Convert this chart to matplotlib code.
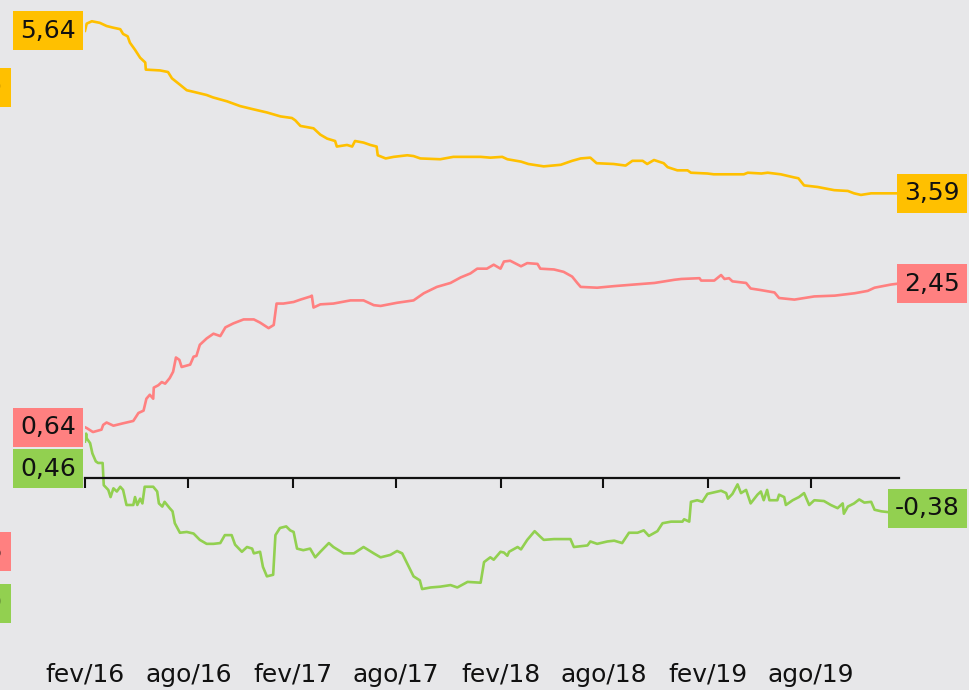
import matplotlib
matplotlib.use("Agg")
import matplotlib.pyplot as plt
import matplotlib.dates as mdates
import pandas as pd

plt.rcParams['font.family'] = ['DejaVu Sans']

# ---------------- data ----------------
yellow_dates = ["2016-02-01","2016-02-04","2016-02-13","2016-02-27","2016-03-10","2016-03-21","2016-04-03","2016-04-08",
    "2016-04-16","2016-04-20","2016-04-29","2016-05-08","2016-05-17","2016-05-18","2016-06-12","2016-06-26","2016-07-03",
    "2016-07-17","2016-07-29","2016-08-10","2016-09-02","2016-09-13","2016-10-08","2016-10-31","2016-11-23","2016-12-17",
    "2017-01-10","2017-01-30","2017-02-05","2017-02-14","2017-03-09","2017-03-21","2017-04-02","2017-04-16","2017-04-19",
    "2017-05-07","2017-05-16","2017-05-21","2017-06-05","2017-06-17","2017-06-28","2017-06-30","2017-07-14","2017-07-28",
    "2017-08-21","2017-09-01","2017-09-13","2017-10-18","2017-11-10","2017-12-28","2018-01-14","2018-02-04","2018-02-13",
    "2018-03-09","2018-03-22","2018-04-18","2018-05-18","2018-06-07","2018-06-22","2018-07-09","2018-07-20","2018-08-19",
    "2018-09-09","2018-09-21","2018-10-09","2018-10-17","2018-10-29","2018-11-15","2018-11-22","2018-12-09","2018-12-27",
    "2019-01-02","2019-01-31","2019-02-11","2019-04-05","2019-04-12","2019-05-06","2019-05-17","2019-06-09","2019-07-03",
    "2019-07-10","2019-07-20","2019-08-13","2019-09-11","2019-10-05","2019-10-16","2019-10-28","2019-11-15","2019-12-31"]
yellow_vals = [5.64,5.73,5.76,5.74,5.70,5.68,5.66,5.60,
    5.57,5.49,5.40,5.30,5.24,5.15,5.14,5.12,5.04,
    4.96,4.89,4.87,4.83,4.80,4.75,4.69,4.65,4.61,
    4.56,4.54,4.51,4.44,4.41,4.33,4.28,4.25,4.18,
    4.20,4.18,4.25,4.23,4.20,4.18,4.07,4.03,4.05,
    4.07,4.06,4.03,4.02,4.05,4.05,4.04,4.05,4.02,
    3.99,3.96,3.93,3.95,4.00,4.03,4.04,3.97,3.96,
    3.94,4.00,4.00,3.96,4.01,3.97,3.92,3.88,3.88,
    3.85,3.84,3.83,3.83,3.85,3.84,3.85,3.83,3.79,
    3.78,3.69,3.67,3.63,3.62,3.59,3.57,3.59,3.59]

pink_dates = ["2016-02-01","2016-02-04","2016-02-15","2016-03-01","2016-03-04","2016-03-10","2016-03-22","2016-04-08",
    "2016-04-26","2016-05-05","2016-05-14","2016-05-19","2016-05-25","2016-05-31","2016-06-01","2016-06-09","2016-06-15",
    "2016-06-21","2016-06-29","2016-07-05","2016-07-10","2016-07-16","2016-07-20","2016-08-04","2016-08-10","2016-08-15",
    "2016-08-21","2016-09-02","2016-09-14","2016-09-26","2016-10-05","2016-10-19","2016-11-06","2016-11-24","2016-12-05",
    "2016-12-20","2016-12-29","2017-01-03","2017-01-15","2017-02-02","2017-02-14","2017-03-04","2017-03-06","2017-03-09",
    "2017-03-21","2017-04-13","2017-05-13","2017-06-05","2017-06-23","2017-07-05","2017-08-03","2017-09-01","2017-09-19",
    "2017-10-12","2017-11-05","2017-11-23","2017-12-10","2017-12-22","2018-01-08","2018-01-20","2018-02-01","2018-02-07",
    "2018-02-18","2018-03-09","2018-03-20","2018-04-07","2018-04-12","2018-05-06","2018-05-23","2018-06-07","2018-06-16",
    "2018-06-22","2018-07-21","2018-08-20","2018-09-24","2018-10-30","2018-12-04","2018-12-16","2019-01-17","2019-01-20",
    "2019-02-12","2019-02-24","2019-03-02","2019-03-10","2019-03-16","2019-04-09","2019-04-17","2019-05-05","2019-05-29",
    "2019-06-06","2019-07-03","2019-08-07","2019-09-12","2019-10-17","2019-11-09","2019-11-21","2019-12-20","2019-12-31"]
pink_vals = [0.64,0.63,0.58,0.61,0.67,0.70,0.66,0.69,
    0.72,0.82,0.85,1.00,1.05,1.00,1.14,1.17,1.21,
    1.19,1.26,1.34,1.52,1.49,1.40,1.43,1.53,1.54,
    1.68,1.76,1.82,1.79,1.90,1.95,2.00,2.00,1.96,
    1.89,1.93,2.20,2.20,2.22,2.25,2.29,2.30,2.15,
    2.19,2.20,2.24,2.24,2.18,2.17,2.21,2.24,2.33,
    2.41,2.46,2.53,2.58,2.64,2.64,2.69,2.64,2.73,
    2.74,2.67,2.71,2.70,2.64,2.63,2.60,2.54,2.46,
    2.41,2.40,2.42,2.44,2.46,2.50,2.51,2.52,2.49,
    2.49,2.56,2.51,2.52,2.48,2.46,2.39,2.37,2.34,
    2.27,2.25,2.29,2.30,2.33,2.36,2.40,2.44,2.45]

green_dates = ["2016-02-01","2016-02-03","2016-02-04","2016-02-10","2016-02-14","2016-02-20","2016-02-24","2016-03-03",
    "2016-03-05","2016-03-13","2016-03-17","2016-03-22","2016-03-28","2016-04-03","2016-04-08","2016-04-14","2016-04-26",
    "2016-04-29","2016-05-03","2016-05-08","2016-05-12","2016-05-16","2016-05-31","2016-06-07","2016-06-10","2016-06-16",
    "2016-06-20","2016-06-29","2016-07-04","2016-07-08","2016-07-17","2016-07-29","2016-08-10","2016-08-21","2016-09-02",
    "2016-09-14","2016-09-26","2016-10-04","2016-10-16","2016-10-22","2016-11-03","2016-11-12","2016-11-21","2016-11-24",
    "2016-12-05","2016-12-10","2016-12-17","2016-12-28","2017-01-01","2017-01-09","2017-01-20","2017-01-27","2017-02-02",
    "2017-02-08","2017-02-19","2017-03-03","2017-03-12","2017-03-21","2017-04-05","2017-04-13","2017-05-01","2017-05-19",
    "2017-06-05","2017-06-23","2017-07-05","2017-07-22","2017-08-03","2017-08-12","2017-08-21","2017-09-01","2017-09-12",
    "2017-09-16","2017-10-01","2017-10-18","2017-11-05","2017-11-17","2017-12-05","2017-12-28","2018-01-03","2018-01-14",
    "2018-01-20","2018-02-01","2018-02-07","2018-02-13","2018-02-16","2018-03-03","2018-03-09","2018-03-20","2018-04-02",
    "2018-04-12","2018-04-18","2018-05-06","2018-06-04","2018-06-10","2018-07-04","2018-07-09","2018-07-21","2018-08-08",
    "2018-08-20","2018-09-03","2018-09-15","2018-09-30","2018-10-11","2018-10-20","2018-11-04","2018-11-13","2018-11-28",
    "2018-12-18","2018-12-21","2018-12-30","2019-01-02","2019-01-13","2019-01-22","2019-01-31","2019-02-12","2019-02-24",
    "2019-03-05","2019-03-08","2019-03-16","2019-03-25","2019-03-31","2019-04-09","2019-04-17","2019-04-29","2019-05-05",
    "2019-05-10","2019-05-16","2019-05-20","2019-06-03","2019-06-06","2019-06-15","2019-06-18","2019-06-30","2019-07-11",
    "2019-07-20","2019-07-29","2019-08-07","2019-08-24","2019-09-05","2019-09-17","2019-09-26","2019-09-28","2019-10-05",
    "2019-10-16","2019-10-25","2019-11-03","2019-11-15","2019-11-21","2019-12-03","2019-12-15","2019-12-31"]
green_vals = [0.46,0.56,0.50,0.44,0.31,0.21,0.19,0.19,
    -0.09,-0.15,-0.24,-0.13,-0.17,-0.11,-0.15,-0.34,-0.34,
    -0.24,-0.34,-0.26,-0.32,-0.11,-0.11,-0.17,-0.32,-0.36,
    -0.30,-0.38,-0.42,-0.57,-0.69,-0.68,-0.70,-0.78,-0.83,
    -0.83,-0.82,-0.72,-0.72,-0.84,-0.93,-0.87,-0.89,-0.95,
    -0.93,-1.12,-1.24,-1.22,-0.72,-0.63,-0.61,-0.66,-0.68,
    -0.89,-0.91,-0.89,-1.00,-0.93,-0.82,-0.87,-0.95,-0.95,
    -0.87,-0.95,-1.00,-0.97,-0.92,-0.95,-1.08,-1.24,-1.29,
    -1.40,-1.38,-1.37,-1.35,-1.38,-1.31,-1.32,-1.06,-1.00,
    -1.03,-0.93,-0.94,-0.98,-0.93,-0.87,-0.90,-0.78,-0.67,
    -0.74,-0.78,-0.77,-0.77,-0.87,-0.85,-0.80,-0.83,-0.80,
    -0.79,-0.82,-0.69,-0.69,-0.66,-0.73,-0.67,-0.57,-0.55,
    -0.55,-0.52,-0.55,-0.30,-0.28,-0.30,-0.20,-0.18,-0.16,
    -0.19,-0.26,-0.20,-0.08,-0.19,-0.15,-0.32,-0.21,-0.17,
    -0.28,-0.15,-0.28,-0.28,-0.21,-0.24,-0.34,-0.28,-0.24,
    -0.19,-0.34,-0.28,-0.29,-0.34,-0.38,-0.32,-0.45,-0.36,
    -0.32,-0.27,-0.31,-0.30,-0.40,-0.42,-0.43,-0.38]

# labels partially hidden at the left edge (values of cut-off labels)
edge_labels = ["4,90", "-0,95", "-1,60"]
edge_vals = [4.92, -0.93, -1.58]

tick_dates = ["2016-02-01","2016-08-01","2017-02-01","2017-08-01",
              "2018-02-01","2018-08-01","2019-02-01","2019-08-01"]
tick_labels = ["fev/16","ago/16","fev/17","ago/17","fev/18","ago/18","fev/19","ago/19"]

YELLOW = "#FFC000"
PINK = "#FF8080"
GREEN = "#92D050"
BG = "#E7E7E9"

series = [
    (pd.to_datetime(yellow_dates), yellow_vals, YELLOW, 0),
    (pd.to_datetime(pink_dates), pink_vals, PINK, 0),
    (pd.to_datetime(green_dates), green_vals, GREEN, -27),
]

W, H = 970, 690
fig = plt.figure(figsize=(W/100, H/100), dpi=100, facecolor=BG)
ax = fig.add_axes([85/W, 0, (899-85)/W, 1])
ax.set_facecolor(BG)

for d, v, c, _ in series:
    ax.plot(d, v, color=c, lw=1.9, solid_joinstyle='round')

ax.set_xlim(pd.Timestamp("2016-02-01"), pd.Timestamp("2020-01-03"))
ax.set_ylim(-2.673, 6.028)

for s in ["top", "right", "left"]:
    ax.spines[s].set_visible(False)
ax.spines["bottom"].set_position(("data", 0))
ax.spines["bottom"].set_linewidth(1.6)
ax.spines["bottom"].set_color("#111111")
ax.set_yticks([])
ticks = pd.to_datetime(tick_dates)
ax.set_xticks(ticks)
ax.set_xticklabels([])
ax.tick_params(axis="x", direction="out", length=7, width=1.5, color="#111111")

for t, lab in zip(ticks, tick_labels):
    ax.text(t, (H-675)/H, lab, transform=ax.get_xaxis_transform(),
            ha="center", va="center", fontsize=18, color="#111111")

def fmt(v):
    return f"{v:.2f}".replace(".", ",")

# start labels (left), end labels (right)
for d, v, c, dy in series:
    ax.annotate(fmt(v[0]), xy=(76/W, v[0]), xycoords=("figure fraction", "data"),
                xytext=(0, dy*0.72), textcoords="offset points",
                ha="right", va="center", fontsize=18, color="#111111",
                bbox=dict(boxstyle="square,pad=0.3", fc=c, ec="none"),
                annotation_clip=False)
    ax.annotate(fmt(v[-1]), xy=(960/W, v[-1]), xycoords=("figure fraction", "data"),
                ha="right", va="center", fontsize=18, color="#111111",
                bbox=dict(boxstyle="square,pad=0.3", fc=c, ec="none"),
                annotation_clip=False)

for lab, v, c in zip(edge_labels, edge_vals, [YELLOW, PINK, GREEN]):
    ax.annotate(lab, xy=(3/W, v), xycoords=("figure fraction", "data"),
                ha="right", va="center", fontsize=18, color="#111111",
                bbox=dict(boxstyle="square,pad=0.3", fc=c, ec="none"),
                annotation_clip=False)

fig.savefig("out.png", dpi=100, facecolor=BG)
